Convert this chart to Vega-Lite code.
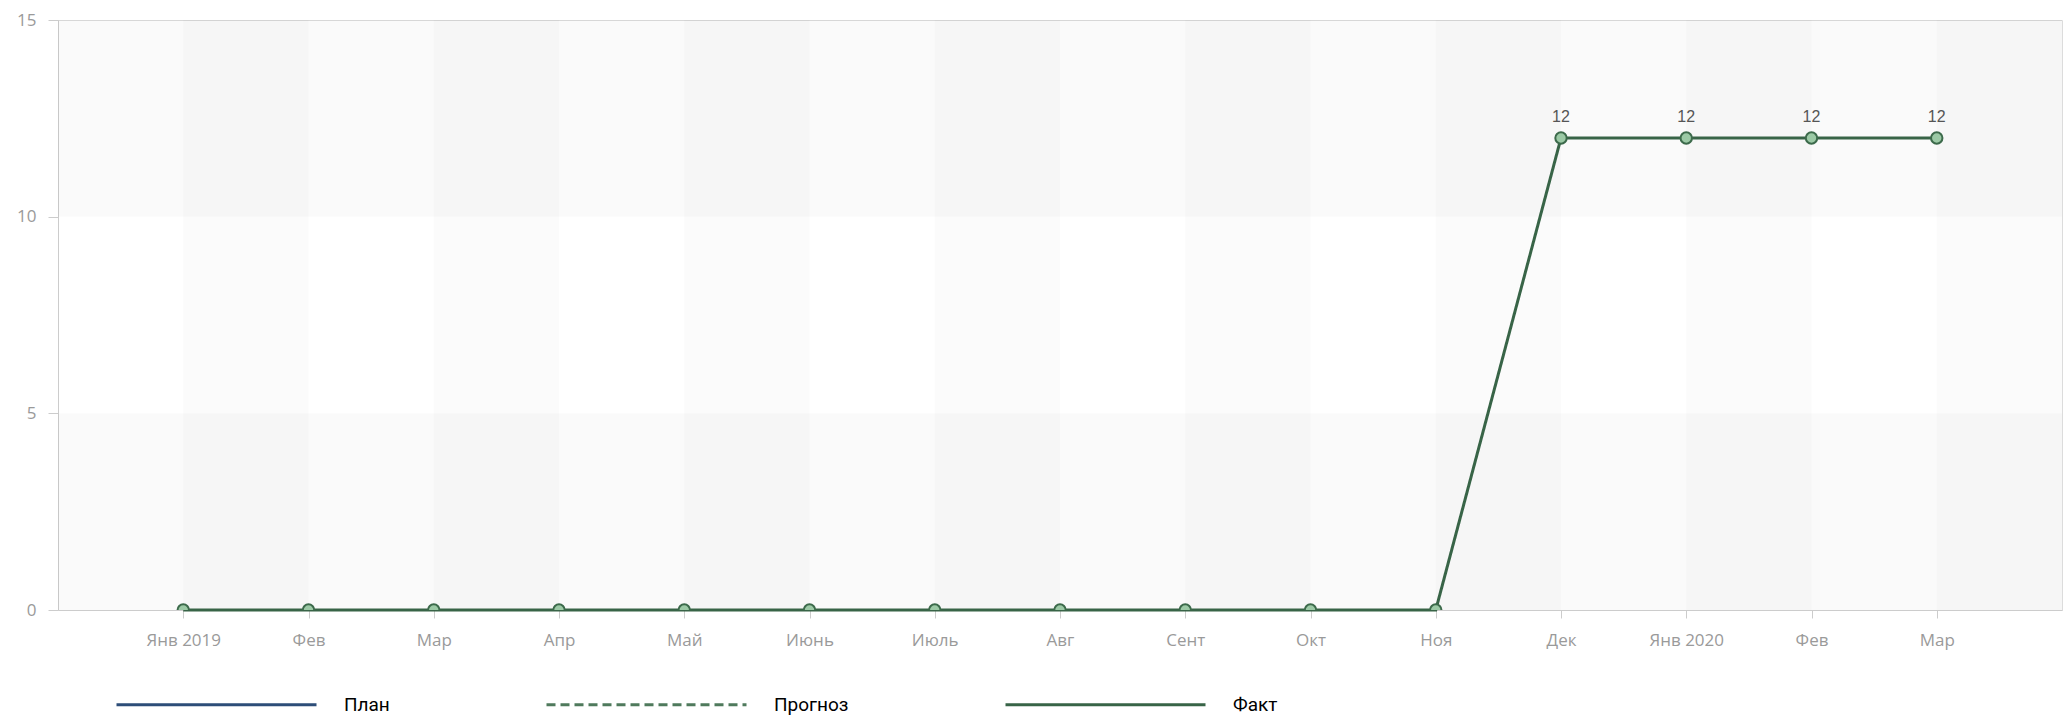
{
  "$schema": "https://vega.github.io/schema/vega-lite/v6.json",
  "autosize": {"type": "none"},
  "width": 2004,
  "height": 590,
  "padding": {"left": 58, "top": 20, "right": 7, "bottom": 108},
  "background": "white",
  "config": {
    "view": {"stroke": "#dcdcdc", "strokeWidth": 1}
  },
  "datasets": {
    "main": [
      {"i": 1, "month": "Янв 2019", "series": "Факт", "value": 0},
      {"i": 2, "month": "Фев", "series": "Факт", "value": 0},
      {"i": 3, "month": "Мар", "series": "Факт", "value": 0},
      {"i": 4, "month": "Апр", "series": "Факт", "value": 0},
      {"i": 5, "month": "Май", "series": "Факт", "value": 0},
      {"i": 6, "month": "Июнь", "series": "Факт", "value": 0},
      {"i": 7, "month": "Июль", "series": "Факт", "value": 0},
      {"i": 8, "month": "Авг", "series": "Факт", "value": 0},
      {"i": 9, "month": "Сент", "series": "Факт", "value": 0},
      {"i": 10, "month": "Окт", "series": "Факт", "value": 0},
      {"i": 11, "month": "Ноя", "series": "Факт", "value": 0},
      {"i": 12, "month": "Дек", "series": "Факт", "value": 12},
      {"i": 13, "month": "Янв 2020", "series": "Факт", "value": 12},
      {"i": 14, "month": "Фев", "series": "Факт", "value": 12},
      {"i": 15, "month": "Мар", "series": "Факт", "value": 12}
    ],
    "vbands": [
      {"x0": 1, "x1": 2}, {"x0": 3, "x1": 4}, {"x0": 5, "x1": 6}, {"x0": 7, "x1": 8},
      {"x0": 9, "x1": 10}, {"x0": 11, "x1": 12}, {"x0": 13, "x1": 14}, {"x0": 15, "x1": 16}
    ],
    "hbands": [
      {"y0": 0, "y1": 5}, {"y0": 10, "y1": 15}
    ]
  },
  "layer": [
    {
      "data": {"name": "vbands"},
      "mark": {"type": "rect", "fill": "#000000", "opacity": 0.017},
      "encoding": {
        "x": {"field": "x0", "type": "quantitative", "scale": {"domain": [0, 16], "nice": false, "zero": false}},
        "x2": {"field": "x1"},
        "y": {"datum": 0, "type": "quantitative"},
        "y2": {"datum": 15}
      }
    },
    {
      "data": {"name": "hbands"},
      "mark": {"type": "rect", "fill": "#000000", "opacity": 0.02},
      "encoding": {
        "x": {"datum": 0, "type": "quantitative"},
        "x2": {"datum": 16},
        "y": {"field": "y0", "type": "quantitative"},
        "y2": {"field": "y1"}
      }
    },
    {
      "data": {"name": "main"},
      "mark": {"type": "line", "strokeWidth": 3, "clip": false},
      "encoding": {
        "x": {
          "field": "i", "type": "quantitative",
          "scale": {"domain": [0, 16], "nice": false, "zero": false},
          "axis": {
            "title": null,
            "values": [1, 2, 3, 4, 5, 6, 7, 8, 9, 10, 11, 12, 13, 14, 15],
            "labelExpr": "['', 'Янв 2019', 'Фев', 'Мар', 'Апр', 'Май', 'Июнь', 'Июль', 'Авг', 'Сент', 'Окт', 'Ноя', 'Дек', 'Янв 2020', 'Фев', 'Мар', ''][datum.value]",
            "grid": false,
            "domainColor": "#cccccc",
            "tickColor": "#cccccc",
            "tickSize": 8,
            "labelPadding": 14,
            "labelFont": "Open Sans",
            "labelFontSize": 17,
            "labelColor": "#9a9a9a",
            "labelFlush": false
          }
        },
        "y": {
          "field": "value", "type": "quantitative",
          "scale": {"domain": [0, 15], "nice": false},
          "axis": {
            "title": null,
            "values": [0, 5, 10, 15],
            "grid": false,
            "domainColor": "#cccccc",
            "tickColor": "#cccccc",
            "tickSize": 10,
            "labelPadding": 12,
            "labelFont": "Open Sans",
            "labelFontSize": 17,
            "labelColor": "#9a9a9a",
            "labelFlush": false
          }
        },
        "color": {
          "field": "series", "type": "nominal",
          "scale": {"domain": ["План", "Прогноз", "Факт"], "range": ["#2d4d78", "#4f7a5c", "#386447"]},
          "legend": {
            "title": null,
            "orient": "none",
            "legendX": 57,
            "legendY": 583,
            "direction": "horizontal",
            "symbolType": "stroke",
            "symbolSize": 40000,
            "symbolStrokeWidth": 3,
            "labelFont": "Roboto",
            "labelFontSize": 19,
            "labelColor": "#000000",
            "labelOffset": 26,
            "columnPadding": 150,
            "padding": 0
          }
        },
        "strokeDash": {
          "field": "series", "type": "nominal",
          "scale": {"domain": ["План", "Прогноз", "Факт"], "range": [[1, 0], [9, 5], [1, 0]]},
          "legend": {
            "title": null,
            "orient": "none",
            "legendX": 57,
            "legendY": 583,
            "direction": "horizontal",
            "symbolType": "stroke",
            "symbolSize": 40000,
            "symbolStrokeWidth": 3,
            "labelFont": "Roboto",
            "labelFontSize": 19,
            "labelColor": "#000000",
            "labelOffset": 26,
            "columnPadding": 150,
            "padding": 0
          }
        }
      }
    },
    {
      "data": {"name": "main"},
      "mark": {"type": "point", "shape": "circle", "filled": true, "size": 130, "fill": "#9bc9a5", "stroke": "#3c6a4b", "strokeWidth": 2, "opacity": 1, "clip": true},
      "encoding": {
        "x": {"field": "i", "type": "quantitative"},
        "y": {"field": "value", "type": "quantitative"}
      }
    },
    {
      "data": {"name": "main"},
      "transform": [{"filter": "datum.value > 0"}],
      "mark": {"type": "text", "dy": -21, "font": "Liberation Sans", "fontSize": 16, "color": "#555555"},
      "encoding": {
        "x": {"field": "i", "type": "quantitative"},
        "y": {"field": "value", "type": "quantitative"},
        "text": {"field": "value", "type": "quantitative"}
      }
    }
  ]
}
